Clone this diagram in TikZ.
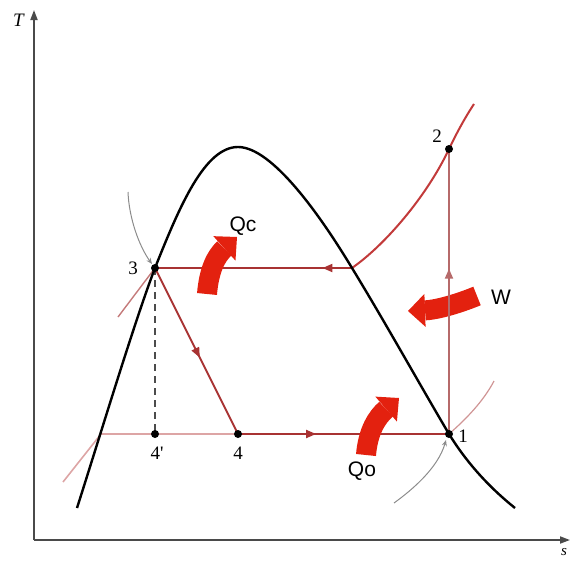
\documentclass[tikz,border=0pt]{standalone}
\usepackage{fontspec}
\setmainfont{Liberation Serif}
\newfontfamily\lsans{Liberation Sans}
\usetikzlibrary{arrows.meta,decorations.markings}
\definecolor{cyc}{HTML}{A83232}
\definecolor{cycpale}{HTML}{DDA5A5}
\definecolor{isob}{HTML}{C47A7A}
\definecolor{comp}{HTML}{B66A6A}
\definecolor{suph}{HTML}{C23A3A}
\definecolor{heatred}{HTML}{E3210F}
\definecolor{axisgray}{HTML}{4A4A4A}
\definecolor{isen}{HTML}{8C8C8C}
\tikzset{
  every picture/.style={line join=round, >=Stealth},
  axisline/.style={line width=1.8pt, axisgray, -{Triangle[length=10pt,width=7pt]}},
  dome/.style={line width=2.4pt, black},
  cycline/.style={line width=2pt, cyc},
  dot/.style={circle, fill=black, inner sep=0pt, minimum size=8pt},
  lbl/.style={font=\fontsize{19}{19}\selectfont},
  heat/.style={line width=20pt, heatred, -{Triangle[length=17pt,width=33pt,line width=0pt]}},
  heatlbl/.style={font=\lsans\fontsize{21}{21}\selectfont},
  midarr/.style={postaction={decorate}, decoration={markings,
    mark=at position #1 with {\arrow{Triangle[length=10pt,width=8pt]}}}},
  isenarc/.style={line width=1pt, isen, -{Stealth[length=6pt,width=5pt]}},
}
\begin{document}
\begin{tikzpicture}[x=1pt,y=-1pt]
\useasboundingbox (0,0) rectangle (573,562);
\coordinate (o) at (34,540);
\coordinate (ttip) at (34,10);
\coordinate (stip) at (570,540);
\draw[axisline] (o) -- (ttip);
\draw[axisline] (o) -- (stip);
\node[lbl] (tlab) at (19,20) {\textit{T}};
\node[font=\fontsize{15}{15}\selectfont] (slab) at (564,552) {\textit{s}};
\coordinate (p1) at (449,434);
\coordinate (p2) at (449,149);
\coordinate (p3) at (155,268);
\coordinate (p4) at (238,434);
\coordinate (p4s) at (155,434);
\coordinate (sv) at (352,268);
\coordinate (sl) at (101,434);
\coordinate (top) at (238,147);
\coordinate (domel) at (77,508);
\coordinate (domer) at (515,508);
\coordinate (liqend) at (63,482);
\coordinate (hpend) at (118,317);
\coordinate (suptop) at (474,104);
\coordinate (isa) at (128,192);
\coordinate (isae) at (152,264);
\coordinate (isb) at (394,503);
\coordinate (isbe) at (446,440);
\coordinate (ise) at (494,381);
\draw[heat] (477,296) .. controls (455,305) and (435,310) .. (408,311);
\draw[line width=1.6pt, cycpale] (liqend) -- (sl) -- (p4);
\draw[line width=1.4pt, isob] (p3) -- (hpend);
\draw[line width=1.2pt, isob!80] (p1) .. controls (465,420) and (483,402) .. (ise);
\draw[isenarc] (isa) .. controls (129,218) and (139,246) .. (isae);
\draw[isenarc] (isb) .. controls (412,490) and (438,468) .. (isbe);
\draw[line width=1.2pt, black!70, dash pattern=on 7pt off 5pt] (p3) -- (p4s);
\draw[line width=2pt, comp, midarr=0.58] (p1) -- (p2);
\draw[line width=2pt, suph] (sv) .. controls (385,245) and (427,196) .. (p2)
  .. controls (459,128) and (468,113) .. (suptop);
\draw[cycline, midarr=0.15] (sv) -- (p3);
\draw[cycline, midarr=0.54] (p3) -- (p4);
\draw[cycline, midarr=0.37] (p4) -- (p1);
\draw[dome] (domel) .. controls (100,436) and (135,320) .. (p3)
  .. controls (180,205) and (205,147) .. (top)
  .. controls (272,147) and (320,215) .. (sv)
  .. controls (385,322) and (420,385) .. (p1)
  .. controls (470,468) and (495,492) .. (domer);
\draw[heat] (207,294) .. controls (209,270) and (216,256) .. (237,237);
\draw[heat] (366,455) .. controls (368,431) and (377,417) .. (399,398);
\node[dot] (d1) at (p1) {};
\node[dot] (d2) at (p2) {};
\node[dot] (d3) at (p3) {};
\node[dot] (d4) at (p4) {};
\node[dot] (d4s) at (p4s) {};
\node[lbl] (l1) at (463,436) {1};
\node[lbl] (l2) at (437,136) {2};
\node[lbl] (l3) at (133,268) {3};
\node[lbl] (l4) at (238,453) {4};
\node[lbl] (l4s) at (157,453) {4\textquotesingle};
\node[heatlbl] (qc) at (243,226) {Qc};
\node[heatlbl] (w) at (501,297) {W};
\node[heatlbl] (qo) at (362,471) {Qo};
\end{tikzpicture}
\end{document}
